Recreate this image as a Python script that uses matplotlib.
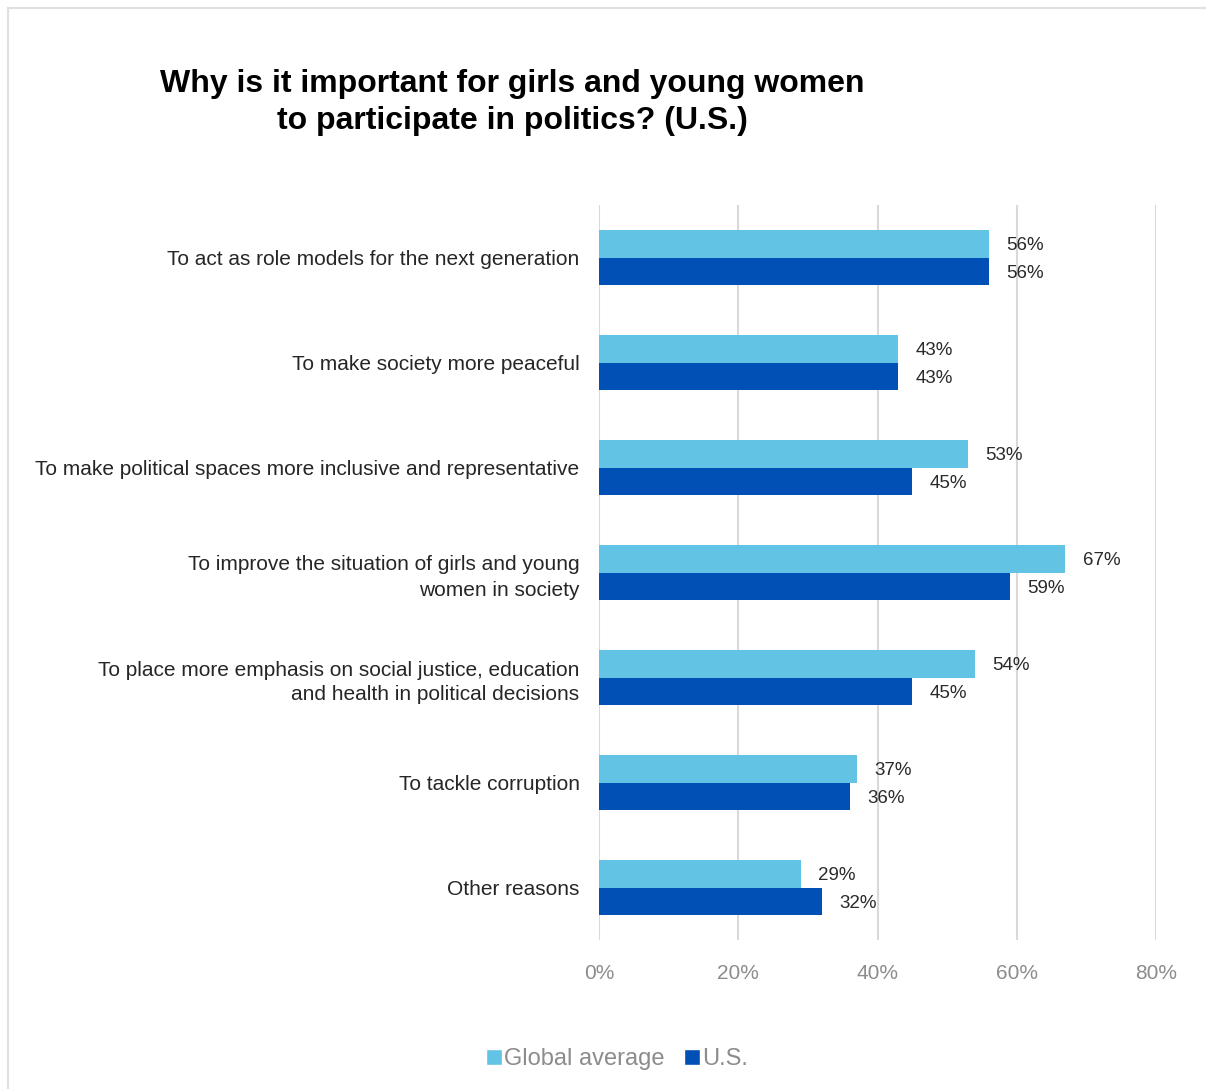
import matplotlib.pyplot as plt
from matplotlib.lines import Line2D

# dati
categorie = ['To act as role models for the next generation',
             'To make society more peaceful',
             'To make political spaces more inclusive and representative',
             'To improve the situation of girls and young\nwomen in society',
             'To place more emphasis on social justice, education\nand health in political decisions',
             'To tackle corruption',
             'Other reasons']
globale = [56, 43, 53, 67, 54, 37, 29]
usa = [56, 43, 45, 59, 45, 36, 32]
serie = ['Global average', 'U.S.']
tick_x = [0, 20, 40, 60, 80]

col_glob = '#62C3E4'
col_usa = '#0050B5'

plt.rcParams['font.family'] = ['Liberation Sans', 'DejaVu Sans']

fig = plt.figure(figsize=(12.06, 10.89), dpi=100)
ax = fig.add_axes([599/1206, 1 - 940/1089, (1156 - 599)/1206, (940 - 205)/1089])

n = len(categorie)
pos = list(range(n))
h = 0.26
pos_g = [p - h/2 for p in pos]
pos_u = [p + h/2 for p in pos]

ax.barh(pos_g, globale, height=h, color=col_glob, label=serie[0], zorder=3)
ax.barh(pos_u, usa, height=h, color=col_usa, label=serie[1], zorder=3)

# etichette con i valori
for y, v in zip(pos_g, globale):
    ax.text(v + 2.5, y, str(v) + '%', va='center_baseline', ha='left', fontsize=13.5, color='#2a2a2a')
for y, v in zip(pos_u, usa):
    ax.text(v + 2.5, y, str(v) + '%', va='center_baseline', ha='left', fontsize=13.5, color='#2a2a2a')

ax.set_ylim(n - 0.5, -0.5)
ax.set_xlim(0, 80)
ax.set_yticks(pos)
ax.set_yticklabels(categorie, fontsize=15, color='#262626', linespacing=1.4)
ax.set_xticks(tick_x)
ax.set_xticklabels([str(t) + '%' for t in tick_x], fontsize=15, color='#8c8c8c')
ax.tick_params(axis='y', length=0, pad=14)
ax.tick_params(axis='x', length=0, pad=17)
ax.grid(axis='x', color='#d9d9d9', linewidth=1.5, zorder=0)
for s in ax.spines.values():
    s.set_visible(False)

fig.text(0.425, 0.906, 'Why is it important for girls and young women\nto participate in politics? (U.S.)',
         ha='center', va='center', fontsize=23, fontweight='bold', linespacing=1.3)

maniglie = [Line2D([0], [0], marker='s', color='w', markerfacecolor=col_glob, markersize=11),
            Line2D([0], [0], marker='s', color='w', markerfacecolor=col_usa, markersize=11)]
fig.legend(maniglie, serie, loc='center', bbox_to_anchor=(615/1206, 1 - 1059/1089), ncol=2,
           frameon=False, fontsize=17, labelcolor='#8c8c8c', handletextpad=-0.1,
           columnspacing=0.7, handlelength=1.0)

# cornice grigia
fig.add_artist(Line2D([8/1206, 8/1206], [0, 1 - 8/1089], color='#e0e0e0', linewidth=1.5))
fig.add_artist(Line2D([8/1206, 1], [1 - 8/1089, 1 - 8/1089], color='#e0e0e0', linewidth=1.5))

fig.savefig('out.png', dpi=100)
